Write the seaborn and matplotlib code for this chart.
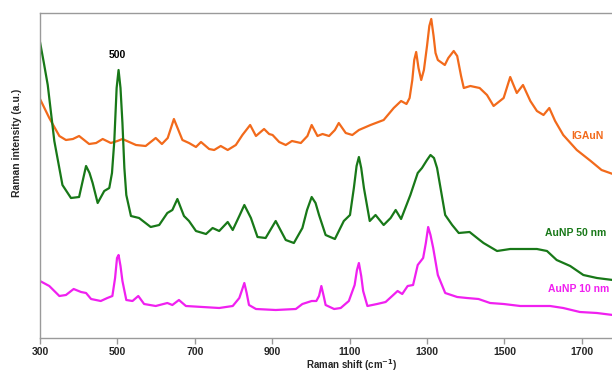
import numpy as np
import pandas as pd
import matplotlib
matplotlib.use("Agg")
import matplotlib.pyplot as plt
import seaborn as sns

# ---- data (Raman shift in cm-1, intensity in arbitrary units) ----
ig_shift = [300, 324, 350, 367, 385, 401, 427, 445, 462, 483, 500, 513, 548, 573, 599, 615, 630,
            646, 668, 685, 703, 716, 737, 750, 767, 785, 806, 823, 843, 858, 879, 892, 901, 918,
            935, 951, 974, 991, 1002, 1017, 1030, 1047, 1062, 1072, 1090, 1107, 1124, 1154, 1188,
            1214, 1233, 1247, 1255, 1262, 1267, 1272, 1278, 1285, 1292, 1300, 1306, 1311, 1317,
            1322, 1328, 1346, 1355, 1369, 1378, 1388, 1395, 1412, 1436, 1455, 1472, 1498, 1515,
            1532, 1548, 1567, 1584, 1601, 1616, 1631, 1652, 1687, 1723, 1751, 1780]
ig_int = [239, 220, 202, 198, 199, 202, 194, 195, 199, 195, 197, 199, 193, 192, 200, 194, 200,
          219, 198, 195, 191, 196, 189, 188, 192, 188, 193, 203, 213, 202, 209, 204, 203, 196,
          193, 197, 195, 202, 213, 202, 204, 202, 208, 215, 205, 203, 208, 213, 218,
          230, 237, 234, 240, 258, 278, 286, 270, 258, 268, 292, 312, 319, 302,
          285, 278, 273, 280, 287, 282, 262, 250, 252, 250, 243, 232, 240, 261,
          245, 253, 237, 227, 223, 230, 217, 203, 188, 177, 168, 164]

np50_shift = [300, 310, 320, 337, 358, 380, 401, 412, 419, 428, 436, 449, 466, 479, 486, 492, 498,
              503, 508, 513, 518, 523, 535, 556, 586, 608, 629, 642, 655, 664, 672, 685, 703, 729,
              746, 763, 785, 798, 815, 828, 845, 862, 883, 909, 935, 956, 978, 990, 1002, 1012,
              1021, 1038, 1062, 1085, 1101, 1111, 1118, 1124, 1130, 1137, 1152, 1167, 1188, 1206,
              1219, 1233, 1257, 1276, 1287, 1300, 1309, 1318, 1326, 1347, 1365, 1382, 1410, 1436,
              1446, 1481, 1515, 1549, 1584, 1610, 1635, 1670, 1704, 1739, 1780]
np50_int = [296, 275, 253, 197, 153, 140, 141, 160, 172, 165, 155, 135, 147, 150, 165, 197, 250,
            268, 250, 215, 170, 143, 122, 120, 111, 113, 125, 128, 139, 130, 122, 117, 107, 104,
            110, 107, 116, 108, 122, 133, 120, 101, 100, 117, 98, 95, 110, 128, 141, 135,
            123, 103, 99, 117, 123, 150, 172, 181, 170, 150, 117, 123, 113, 120,
            128, 119, 143, 165, 170, 178, 183, 180, 170, 123, 113, 105, 106, 98,
            95, 87, 89, 89, 89, 87, 78, 72, 63, 60, 58]

np10_shift = [300, 324, 350, 367, 387, 406, 419, 432, 457, 474, 487, 494, 499, 503, 508, 513, 523,
              539, 554, 569, 599, 629, 642, 659, 677, 720, 763, 798, 815, 822, 828, 834, 840, 858,
              909, 961, 978, 1002, 1014, 1021, 1027, 1033, 1038, 1060, 1077, 1098, 1113, 1119,
              1124, 1130, 1135, 1146, 1171, 1193, 1210, 1224, 1236, 1250, 1264, 1276, 1290, 1297,
              1303, 1309, 1316, 1328, 1347, 1378, 1403, 1433, 1463, 1498, 1541, 1584, 1618, 1652,
              1695, 1739, 1780]
np10_int = [57, 52, 42, 43, 49, 46, 45, 39, 37, 40, 42, 60, 80, 83, 72, 57, 38,
            37, 42, 34, 32, 35, 33, 38, 32, 31, 30, 32, 40, 48, 55, 45, 33, 29,
            28, 29, 34, 37, 37, 42, 52, 42, 33, 29, 30, 37, 53, 68,
            75, 62, 47, 32, 34, 36, 42, 47, 44, 52, 53, 73, 80, 95,
            111, 103, 90, 63, 45, 41, 40, 39, 35, 34, 32, 32, 32, 30,
            26, 25, 23]

series_names = ["IGAuN", "AuNP 50 nm", "AuNP 10 nm"]
x_ticks = [300, 500, 700, 900, 1100, 1300, 1500, 1700]

colors = {"IGAuN": "#F26A1B", "AuNP 50 nm": "#187818", "AuNP 10 nm": "#F020F0"}

frames = []
for name, xs, ys in [("IGAuN", ig_shift, ig_int),
                     ("AuNP 50 nm", np50_shift, np50_int),
                     ("AuNP 10 nm", np10_shift, np10_int)]:
    frames.append(pd.DataFrame({"shift": xs, "intensity": ys, "sample": name}))
df = pd.concat(frames, ignore_index=True)

sns.set_theme(style="white")
plt.rcParams["font.family"] = ["Liberation Sans", "DejaVu Sans"]

fig = plt.figure(figsize=(6.12, 3.72), dpi=100)
ax = fig.add_axes([40 / 612, 34 / 372, 572 / 612, 325 / 372])

for name in series_names:
    sub = df[df["sample"] == name]
    sns.lineplot(data=sub, x="shift", y="intensity", ax=ax, color=colors[name],
                 linewidth=1.6, sort=False, legend=False)

fs = 7.5
ax.set_xlim(300, 1778)
ax.set_ylim(0, 325)
ax.set_xticks(x_ticks)
ax.set_xticklabels([str(t) for t in x_ticks], fontsize=fs, fontweight="bold")
ax.set_yticks([])

for s in ["left", "top", "bottom"]:
    ax.spines[s].set_color("#9a9a9a")
    ax.spines[s].set_linewidth(1.0)
ax.spines["right"].set_visible(False)
ax.tick_params(axis="x", direction="out", length=4, width=1, color="#9a9a9a",
               bottom=True, pad=2.5)

ax.set_xlabel("Raman shift (cm$^{\\mathbf{-1}}$)", fontsize=7, fontweight="bold")
ax.set_ylabel("Raman intensity (a.u.)", fontsize=fs, fontweight="bold")
ax.xaxis.set_label_coords(0.545, -0.058)
ax.yaxis.set_label_coords(-0.031, 0.60)

ax.text(500, 283, "500", fontsize=fs, fontweight="bold", ha="center", va="center", color="black")
ax.text(1757, 202, "IGAuN", fontsize=fs, fontweight="bold", ha="right", va="center",
        color=colors["IGAuN"])
ax.text(1762, 105, "AuNP 50 nm", fontsize=fs, fontweight="bold", ha="right", va="center",
        color=colors["AuNP 50 nm"])
ax.text(1770, 49, "AuNP 10 nm", fontsize=fs, fontweight="bold", ha="right", va="center",
        color=colors["AuNP 10 nm"])

fig.savefig("out.png", dpi=100)
